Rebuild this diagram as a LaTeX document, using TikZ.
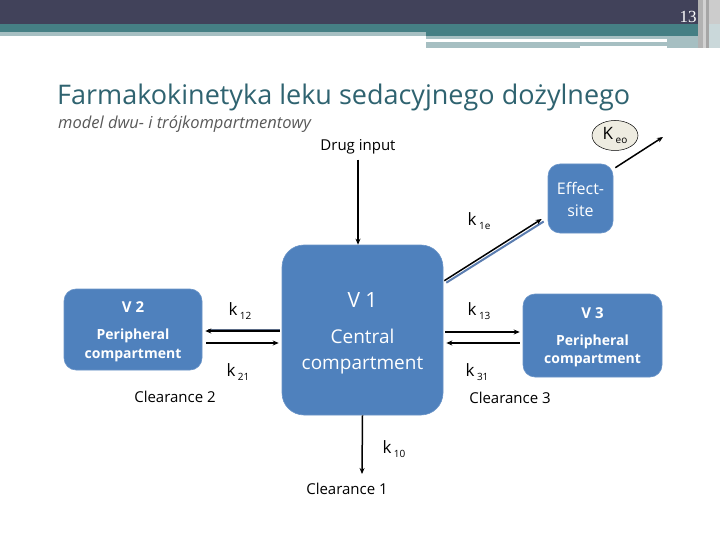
\documentclass[tikz,border=0pt]{standalone}
\usepackage{fontspec}
\setmainfont{Open Sans}
\newfontfamily\numfont{Liberation Serif}
\usetikzlibrary{arrows.meta,calc,shapes.geometric}
\definecolor{hdark}{HTML}{41425A}
\definecolor{hteal}{HTML}{457F84}
\definecolor{hlight}{HTML}{A6BFC2}
\definecolor{titlec}{HTML}{2F6370}
\definecolor{subc}{HTML}{595959}
\definecolor{boxblue}{HTML}{4F81BD}
\definecolor{boxedge}{HTML}{6A94C8}
\definecolor{keofill}{HTML}{EEECE1}
\definecolor{shadowblue}{HTML}{5B7DB0}
\definecolor{slate}{HTML}{5A6A85}
\newcommand{\klab}[2]{{\fontsize{17}{17}\selectfont #1}\hspace{2.5pt}\raisebox{-4pt}{\fontsize{10}{10}\selectfont #2}}
\begin{document}
\begin{tikzpicture}[x=1pt,y=-1pt,
  comp/.style={fill=boxblue, draw=boxedge, line width=0.6pt, rounded corners=#1, inner sep=0pt},
  comp/.default=12pt,
  boxtext/.style={text=white, align=center, inner sep=0pt},
  arr/.style={-{Stealth[length=6pt,width=5pt]}, line width=1.5pt},
  lbl/.style={inner sep=0pt, font=\fontsize{15}{15}\selectfont},
  klabel/.style={inner sep=0pt}
]
\useasboundingbox (0,0) rectangle (720,540);
\fill[white] (0,0) rectangle (720,540);
% header
\fill[hdark] (0,0) rectangle (720,24);
\fill[hteal] (0,24) rectangle (698,36);
\fill[hlight] (0,32) rectangle (426,36);
\fill[hlight] (426,36) rectangle (667,39);
\fill[hlight] (426,42) rectangle (580,48);
\fill[hlight] (580,42) rectangle (667,46);
\fill[hlight] (667,36) rectangle (698,48);
\fill[gray!60] (698,0) rectangle (703,48);
\fill[gray!35] (703,0) rectangle (706,48);
\fill[gray!70] (706,0) rectangle (709,48);
\fill[gray!40] (709,0) rectangle (720,24);
\fill[hlight!60] (709,24) rectangle (720,48);
\node[text=white, inner sep=0pt, font=\numfont\fontsize{17}{17}\selectfont] (pnum) at (688,17) {13};

% title
\node[anchor=west, inner sep=0pt, text=titlec, font=\fontsize{27}{27}\selectfont] (title) at (57,97) {Farmakokinetyka leku sedacyjnego dożylnego};
\node[anchor=west, inner sep=0pt, text=subc, font=\itshape\fontsize{16.5}{16.5}\selectfont] (sub) at (58,124) {model dwu- i trójkompartmentowy};

% compartments
\node[comp=22pt, minimum width=161pt, minimum height=170pt] (v1) at (362.5,330) {};
\node[boxtext, font=\fontsize{19}{26}\selectfont] (v1t) at ([yshift=-3pt]v1.center)
  {{\fontsize{21}{21}\selectfont V 1}\\[10pt]Central\\compartment};
\node[comp=12pt, minimum width=138pt, minimum height=81pt] (v2) at (133,329.5) {};
\node[boxtext, font=\fontsize{14}{19}\selectfont\bfseries] (v2t) at ([yshift=-2pt]v2.center)
  {{\fontsize{15}{15}\selectfont V 2}\\[8pt]Peripheral\\compartment};
\node[comp=12pt, minimum width=139pt, minimum height=83pt] (v3) at (592.5,335.5) {};
\node[boxtext, font=\fontsize{14}{18}\selectfont\bfseries] (v3t) at ([yshift=-2pt]v3.center)
  {{\fontsize{15}{15}\selectfont V 3}\\[9pt]Peripheral\\compartment};
\node[comp=12pt, minimum width=65pt, minimum height=69pt] (eff) at (580.5,198.5) {};
\node[boxtext, font=\fontsize{16}{22}\selectfont] (efft) at ([yshift=-1pt]eff.center)
  {Effect-\\site};
\node[ellipse, draw=black, line width=0.5pt, fill=keofill, minimum width=46pt, minimum height=30pt, inner sep=0pt] (keo) at (615,135.5)
  {\klab{K}{eo}};

% labels
\node[lbl] (drug) at (358,147) {Drug input};
\node[lbl] (cl1) at (347,489) {Clearance 1};
\node[lbl] (cl2) at (175,397) {Clearance 2};
\node[lbl] (cl3) at (510,398) {Clearance 3};
\node[klabel] (k12) at (240,311) {\klab{k}{12}};
\node[klabel] (k21) at (238,372) {\klab{k}{21}};
\node[klabel] (k13) at (479,311) {\klab{k}{13}};
\node[klabel] (k31) at (477,372) {\klab{k}{31}};
\node[klabel] (k1e) at (479,221) {\klab{k}{1e}};
\node[klabel] (k10) at (394,449) {\klab{k}{10}};

\coordinate (keoend) at (663,137);
\coordinate (k10end) at (362,474);

% connectors
\draw[arr] ([yshift=-5pt]drug.south) -- (drug.south |- v1.north);
\draw[arr] (v1.south) -- (k10end);
\draw[slate, line width=2pt] ([shift={(-2,-0.5)}]v1.west) -- ([shift={(6,0)}]v2.east);
\draw[arr] ([shift={(-2,1)}]v1.west) -- ([shift={(3,1.5)}]v2.east);
\draw[arr] ([shift={(4,13.5)}]v2.east) -- ([shift={(-3,13)}]v1.west);
\draw[arr] ([shift={(2,2)}]v1.east) -- ([shift={(-3,-3.5)}]v3.west);
\draw[arr] ([shift={(-3,7.5)}]v3.west) -- ([shift={(3,13)}]v1.east);
\draw[shadowblue, line width=2pt] ([shift={(3,38)}]v1.north east) -- ([shift={(-4,23)}]eff.west);
\draw[arr] ([shift={(1,36)}]v1.north east) -- ([shift={(-6,20.5)}]eff.west);
\draw[arr] ([shift={(2,4)}]eff.north east) -- (keoend);
\end{tikzpicture}
\end{document}
